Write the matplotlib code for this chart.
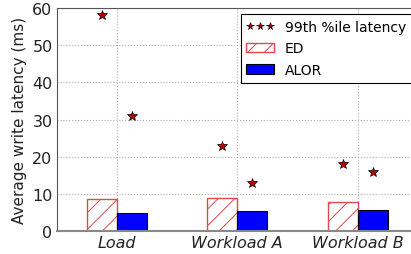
import matplotlib
matplotlib.use("Agg")
import matplotlib.pyplot as plt
import numpy as np

categories = ["Load", "Workload A", "Workload B"]
ed_avg = [8.7, 9.0, 7.8]
alor_avg = [4.85, 5.4, 5.75]
ed_p99 = [58.0, 23.0, 18.0]
alor_p99 = [31.0, 13.0, 16.0]

plt.rcParams["hatch.linewidth"] = 0.7
plt.rcParams["hatch.color"] = "#e04a4a"

fig = plt.figure(figsize=(4.11, 2.55), dpi=100)
ax = fig.add_axes([56.7 / 411, 22.7 / 255, (418 - 56.7) / 411, 223.3 / 255])

x = np.arange(len(categories))
w = 0.25
ax.bar(x - w / 2, ed_avg, w, color="white", edgecolor="#e04a4a",
       hatch="//", linewidth=1.0, label="ED", zorder=2)
ax.bar(x + w / 2, alor_avg, w, color="#0000ff", edgecolor="black",
       linewidth=0.8, label="ALOR", zorder=2)
ax.plot(np.concatenate([x - w / 2, x + w / 2]), ed_p99 + alor_p99,
        linestyle="none", marker="*", markersize=7.5, color="#c00000",
        markeredgecolor="black", markeredgewidth=0.5,
        label="99th %ile latency", zorder=3)

ax.set_xlim(-0.5, 2.5)
ax.set_ylim(0, 60)
ax.set_xticks(x)
ax.set_xticklabels(categories, fontsize=11.5, style="italic")
ax.set_yticks(range(0, 61, 10))
ax.tick_params(axis="y", labelsize=11.5, length=0, pad=3, colors="#222222")
ax.tick_params(axis="x", length=0, pad=3, colors="#222222")
ax.set_ylabel("Average write latency (ms)", fontsize=11, labelpad=4,
              color="#222222")
ax.grid(True, linestyle=":", color="#b0b0b0", linewidth=0.8, zorder=0)
ax.set_axisbelow(True)
for s in ax.spines.values():
    s.set_color("#555555")
ax.spines["bottom"].set_color("#888888")
ax.spines["bottom"].set_linewidth(1.5)

leg = ax.legend(loc="upper right", numpoints=3, fontsize=10, fancybox=False,
                edgecolor="black", framealpha=1, borderaxespad=0.45,
                handlelength=2.0, labelspacing=0.55, markerscale=0.75)
leg.get_frame().set_linewidth(0.8)

fig.savefig("out.png", dpi=100)
